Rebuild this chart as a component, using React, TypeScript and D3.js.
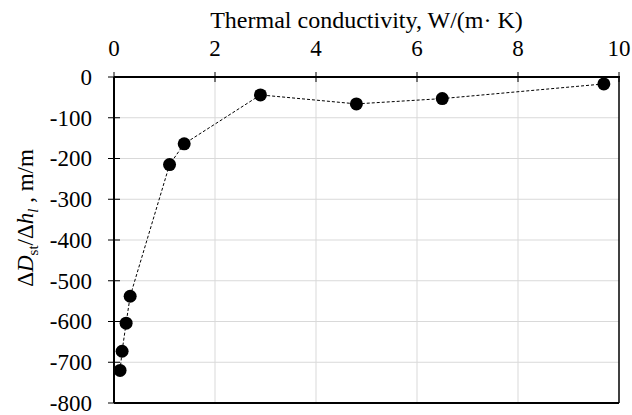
import * as d3 from "d3";

// Thermal conductivity (W/(m·K)) vs ΔDst/Δhl (m/m)
const conductivity = [0.12, 0.16, 0.24, 0.32, 1.1, 1.39, 2.9, 4.8, 6.5, 9.7];
const slope = [-720, -673, -604, -538, -215, -164, -44, -66, -53, -17];
const xTicks = [0, 2, 4, 6, 8, 10];
const yTicks = [0, -100, -200, -300, -400, -500, -600, -700, -800];

const W = 632;
const H = 415;
const margin = { top: 77, right: 13, bottom: 12, left: 114 };
const FONT = '"Liberation Serif", "Times New Roman", Times, serif';
const FS = 23;

export default function App() {
  const x = d3.scaleLinear().domain([0, 10]).range([margin.left, W - margin.right]);
  const y = d3.scaleLinear().domain([0, -800]).range([margin.top, H - margin.bottom]);
  const [x0, x1] = x.range();
  const [y0, y1] = y.range();

  const line = d3
    .line<number>()
    .x((_, i) => x(conductivity[i]))
    .y((d) => y(d));

  return (
    <svg
      width={W}
      height={H}
      style={{ position: "absolute", left: 0, top: 0, background: "#fff", fontFamily: FONT }}
    >
      {/* grid */}
      {xTicks.slice(1, -1).map((t) => (
        <line key={"gx" + t} x1={x(t)} x2={x(t)} y1={y0} y2={y1} stroke="#d9d9d9" strokeWidth={1} />
      ))}
      {yTicks.slice(1, -1).map((t) => (
        <line key={"gy" + t} x1={x0} x2={x1} y1={y(t)} y2={y(t)} stroke="#d9d9d9" strokeWidth={1} />
      ))}

      {/* frame */}
      <line x1={x1} x2={x1} y1={y0} y2={y1} stroke="#000" strokeWidth={1.5} />
      <line x1={x0} x2={x1} y1={y1} y2={y1} stroke="#000" strokeWidth={2} />
      <line x1={x0} x2={x1 + 1} y1={y0} y2={y0} stroke="#000" strokeWidth={2} />
      <line x1={x0} x2={x0} y1={y0} y2={y1} stroke="#000" strokeWidth={2} />

      {/* top axis ticks + labels */}
      {xTicks.map((t) => (
        <g key={"tx" + t}>
          <line x1={x(t)} x2={x(t)} y1={y0 - 5} y2={y0 + 5} stroke="#000" strokeWidth={1} />
          <text x={x(t)} y={y0 - 21} textAnchor="middle" fontSize={FS} fill="#000">
            {t}
          </text>
        </g>
      ))}

      {/* left axis ticks + labels */}
      {yTicks.map((t) => (
        <g key={"ty" + t}>
          <line x1={x0 - 6} x2={x0 + 6} y1={y(t)} y2={y(t)} stroke="#000" strokeWidth={1} />
          <text x={x0 - 22} y={y(t)} dy="0.34em" textAnchor="end" fontSize={FS} fill="#000">
            {t}
          </text>
        </g>
      ))}

      {/* axis titles */}
      <text x={(x0 + x1) / 2} y={28} textAnchor="middle" fontSize={24} fill="#000">
        Thermal conductivity, W/(m· K)
      </text>
      <text
        transform={`translate(33, 218) rotate(-90)`}
        textAnchor="middle"
        fontSize={FS}
        fill="#000"
      >
        Δ<tspan fontStyle="italic">D</tspan>
        <tspan fontSize={15} dy={5}>st</tspan>
        <tspan dy={-5}>/Δ</tspan>
        <tspan fontStyle="italic">h</tspan>
        <tspan fontSize={15} dy={5} fontStyle="italic">l</tspan>
        <tspan dy={-5}> , m/m</tspan>
      </text>

      {/* series */}
      <path d={line(slope) ?? ""} fill="none" stroke="#000" strokeWidth={1} strokeDasharray="3,2" />
      {slope.map((v, i) => (
        <circle key={"p" + i} cx={x(conductivity[i])} cy={y(v)} r={6.5} fill="#000" />
      ))}
    </svg>
  );
}
